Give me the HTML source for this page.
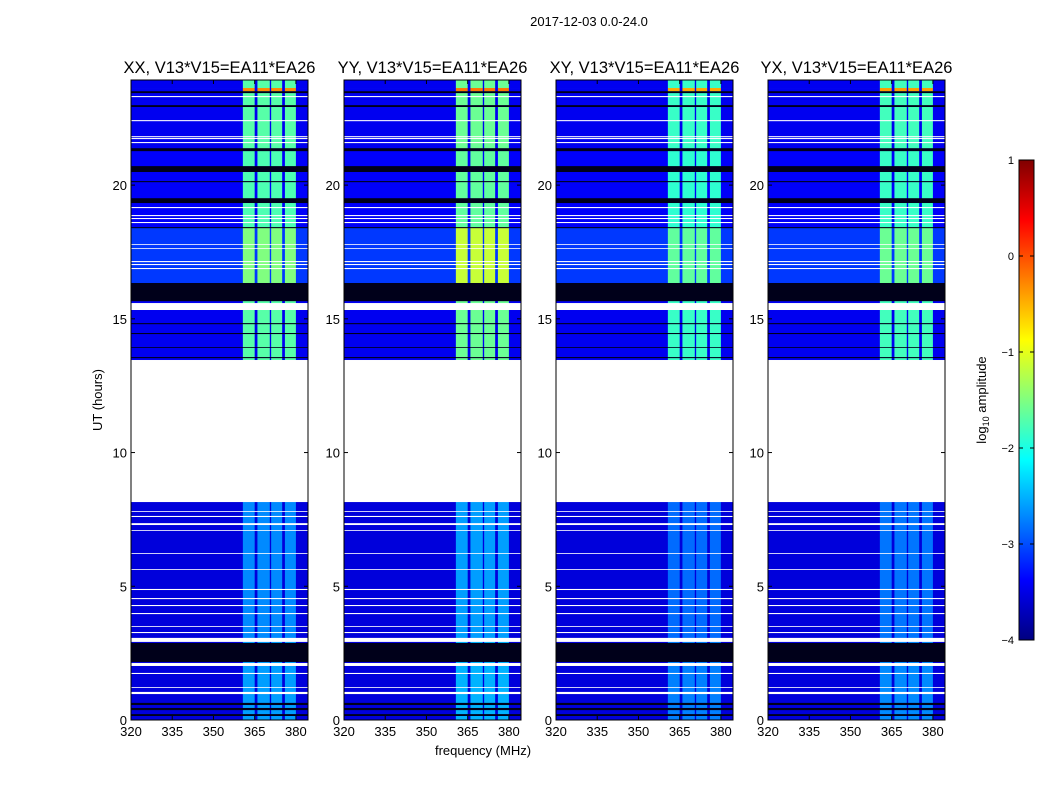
<!DOCTYPE html>
<html><head><meta charset="utf-8">
<style>
body{margin:0;background:#fff;}
svg{display:block;font-family:"Liberation Sans","DejaVu Sans",sans-serif;}
</style></head>
<body>
<svg id="fig" width="1050" height="800" viewBox="0 0 1050 800">
<text x="589" y="26" font-size="13" text-anchor="middle">2017-12-03 0.0-24.0</text>
<text x="102" y="400" font-size="13" text-anchor="middle" transform="rotate(-90 102 400)">UT (hours)</text>
<text x="483" y="755" font-size="13" text-anchor="middle">frequency (MHz)</text>
<text x="986" y="400" font-size="13" text-anchor="middle" transform="rotate(-90 986 400)">log<tspan font-size="9" dy="3">10</tspan><tspan dy="-3"> amplitude</tspan></text>
</svg>
<script>
// ---- data ----
const panelTitles = ["XX, V13*V15=EA11*EA26","YY, V13*V15=EA11*EA26","XY, V13*V15=EA11*EA26","YX, V13*V15=EA11*EA26"];
const panelBandOffset = [0, 0.1, -0.15, -0.1];
const xTicks = [320,335,350,365,380];
const yTicks = [0,5,10,15,20];
const cbTicks = [1,0,-1,-2,-3,-4];
const cbLabels = ["1","0","\u22121","\u22122","\u22123","\u22124"];
// frequency columns: [f0, f1, isBand]
const freqCols = [[320,360.7,0],[360.7,365,1],[365,366,0],[366,370.5,1],[370.5,371,0],[371,375,1],[375,376,0],[376,380,1],[380,384.4,0]];
// time data segments: [h0, h1, background log amp, band log amp]
const dataSegs = [[23.63,23.93,-3.45,-1.7],[23.51,23.63,-3.45,-0.3],[21.38,23.51,-3.45,-1.7],[18.43,21.38,-3.4,-1.75],[16.34,18.43,-3.1,-1.5],[13.46,16.34,-3.45,-1.7],[2.92,8.15,-3.55,-2.7],[0,2.92,-3.55,-2.6]];
const blackSegs = [[23.44,23.51],[22.92,22.99],[21.27,21.38],[20.49,20.71],[20.11,20.15],[19.33,19.51],[18.39,18.43],[15.66,16.34],[14.80,14.84],[14.43,14.47],[13.91,13.94],[13.53,13.57],[2.17,2.88],[0.56,0.64],[0.37,0.45],[0.15,0.22]];
const whiteSegs = [[23.29,23.33],[22.39,22.43],[21.79,21.83],[21.72,21.76],[21.57,21.61],[19.14,19.18],[18.84,18.88],[18.73,18.77],[18.58,18.62],[17.76,17.79],[17.61,17.64],[17.12,17.16],[17.01,17.05],[16.86,16.90],[15.33,15.59],[8.15,13.46],[7.78,7.81],[7.59,7.63],[7.29,7.36],[7.07,7.10],[6.21,6.24],[5.61,5.64],[4.86,4.90],[4.52,4.56],[4.26,4.30],[3.96,4.00],[3.48,3.51],[3.25,3.29],[2.92,3.07],[2.02,2.13],[1.72,1.76],[1.20,1.23],[0.97,1.05]];
const yyBright = [16.34,18.43,-1.15];

// ---- layout ----
const NS="http://www.w3.org/2000/svg";
const svg=document.getElementById('fig');
const panelX=[131,344,556,768], PW=177, PT=80, PB=720;
const F0=320,F1=384.4,H0=0,H1=23.93;
function jet(v){const t=Math.max(0,Math.min(1,(v+4)/5));const c=x=>Math.round(255*Math.max(0,Math.min(1,1.5-Math.abs(4*t-x))));return `rgb(${c(3)},${c(2)},${c(1)})`;}
function mk(tag,attrs,parent){const e=document.createElementNS(NS,tag);for(const k in attrs)e.setAttribute(k,attrs[k]);(parent||svg).appendChild(e);return e;}

panelTitles.forEach((title,p)=>{
  const x0=panelX[p];
  const sx=f=>x0+(f-F0)/(F1-F0)*PW;
  const sy=h=>PB-(h-H0)/(H1-H0)*(PB-PT);
  const g=mk('g',{});
  
  
  dataSegs.forEach(s=>{
    freqCols.forEach(c=>{
      let v=c[2]?s[3]+panelBandOffset[p]:s[2];
      if(p===1&&c[2]&&s[0]>=yyBright[0]&&s[1]<=yyBright[1])v=yyBright[2];
      const r=mk('rect',{x:sx(c[0]),y:sy(s[1]),width:sx(c[1])-sx(c[0])+0.3,height:sy(s[0])-sy(s[1])+0.3,fill:jet(v)},g);
      
      
    });
  });
  blackSegs.forEach(s=>{const r=mk('rect',{x:x0,y:sy(s[1]),width:PW,height:sy(s[0])-sy(s[1]),fill:'#00001a'},g);
    
    });
  whiteSegs.forEach(s=>{const r=mk('rect',{x:x0,y:sy(s[1]),width:PW,height:sy(s[0])-sy(s[1]),fill:'#fff'},g);
    
    });
  const fr=mk('rect',{x:x0,y:PT,width:PW,height:PB-PT,fill:'none',stroke:'#000','stroke-width':1},g);
  
  
  const t=mk('text',{x:x0+PW/2,y:73,'font-size':16.5,'text-anchor':'middle'},g);t.textContent=title;
  
  
  xTicks.forEach(f=>{const x=sx(f);mk('line',{x1:x,x2:x,y1:PB,y2:PB-4,stroke:'#000'},g);mk('line',{x1:x,x2:x,y1:PT,y2:PT+4,stroke:'#000'},g);
    const l=mk('text',{x:x,y:PB+16,'font-size':13,'text-anchor':'middle'},g);l.textContent=f;
    
    });
  yTicks.forEach(h=>{const y=sy(h);mk('line',{x1:x0,x2:x0+4,y1:y,y2:y,stroke:'#000'},g);mk('line',{x1:x0+PW,x2:x0+PW-4,y1:y,y2:y,stroke:'#000'},g);
    const l=mk('text',{x:x0-4,y:y+5,'font-size':13,'text-anchor':'end'},g);l.textContent=h;
    
    });
});

// colorbar
const cb=mk('g',{});


const defs=mk('defs',{},cb);
const grad=mk('linearGradient',{id:'jetg',x1:0,y1:1,x2:0,y2:0},defs);
for(let i=0;i<=8;i++){mk('stop',{offset:i/8,'stop-color':jet(-4+5*i/8)},grad);}
const CBX=1019,CBW=15,CBT=160,CBB=640;
mk('rect',{x:CBX,y:CBT,width:CBW,height:CBB-CBT,fill:'url(#jetg)',stroke:'#000'},cb);
const cy=v=>CBB-(v+4)/5*(CBB-CBT);
cbTicks.forEach((v,i)=>{const y=cy(v);mk('line',{x1:CBX,x2:CBX+4,y1:y,y2:y,stroke:'#000'},cb);mk('line',{x1:CBX+CBW,x2:CBX+CBW-4,y1:y,y2:y,stroke:'#000'},cb);
  const l=mk('text',{x:CBX-5,y:y+4,'font-size':11,'text-anchor':'end'},cb);l.textContent=cbLabels[i];
  
  });
</script>
</body></html>
